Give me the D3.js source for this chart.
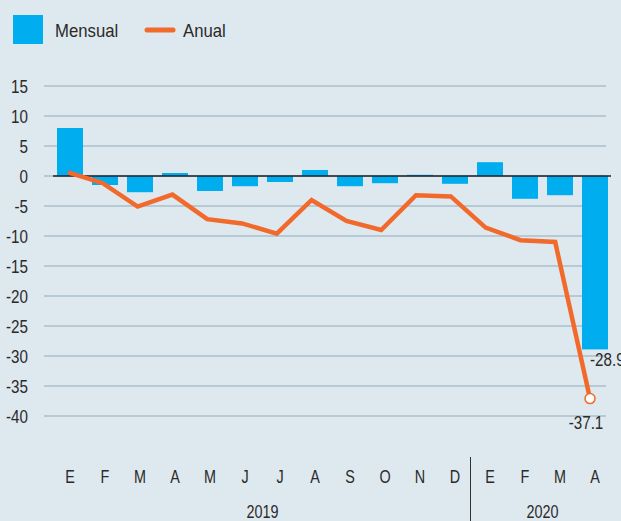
<!DOCTYPE html>
<html lang="es">
<head>
<meta charset="utf-8">
<script src="https://d3js.org/d3.v7.min.js"></script>
<style>
    body { margin: 0; background-color: #dee8ef; }
    svg text { font-family: "Liberation Sans", "Arial", sans-serif; fill: #2a2a2a; }
</style>
</head>
<body>
<svg id="main" width="621" height="521"></svg>
<script>
const meses = ["E","F","M","A","M","J","J","A","S","O","N","D","E","F","M","A"];
const anios = ["2019", "2020"];
const mesesPorAnio = [12, 4];
const mensual = [8.0, -1.5, -2.7, 0.5, -2.5, -1.7, -1.0, 1.0, -1.7, -1.2, 0.2, -1.3, 2.3, -3.8, -3.2, -28.9];
const anual = [0.6, -1.2, -5.1, -3.1, -7.2, -7.9, -9.6, -4.0, -7.5, -9.0, -3.2, -3.4, -8.6, -10.7, -11.0, -37.1];
const yTicks = [15, 10, 5, 0, -5, -10, -15, -20, -25, -30, -35, -40];

const azul = "#00adef";
const naranja = "#f26a2b";
const narrow = 0.8;   // condensed look for labels

let svg = d3.select("svg#main");
let idx = d3.range(meses.length);

// place a text at (px, py), squeezed horizontally
function place(sel, px, py, sx) {
    return sel.attr("transform", d => {
        let a = typeof px === "function" ? px(d) : px;
        let b = typeof py === "function" ? py(d) : py;
        return "translate(" + a + "," + b + ") scale(" + (sx || narrow) + ",1)";
    });
}

let x = d3.scaleBand()
    .domain(idx)
    .range([52.5, 612.5])
    .paddingInner(0.257)
    .paddingOuter(0.1285);

let xLine = d3.scalePoint()
    .domain(idx)
    .range([68, 590]);

let y = d3.scaleLinear()
    .domain([-40, 15])
    .range([416, 86]);

// grid
svg.append("g").selectAll("line")
    .data(yTicks)
    .enter().append("line")
    .attr("x1", 44).attr("x2", 606)
    .attr("y1", d => y(d)).attr("y2", d => y(d))
    .attr("stroke", "#a9bfcd")
    .attr("stroke-width", 1.5);

let yl = svg.append("g").selectAll("text")
    .data(yTicks)
    .enter().append("text")
    .attr("dy", "0.36em")
    .attr("text-anchor", "end")
    .style("font-size", "19px")
    .text(d => d);
place(yl, 28, d => y(d));

// bars
svg.append("g").selectAll("rect")
    .data(mensual)
    .enter().append("rect")
    .attr("x", (d, i) => x(i))
    .attr("width", x.bandwidth())
    .attr("y", d => y(Math.max(0, d)))
    .attr("height", d => Math.abs(y(d) - y(0)))
    .attr("fill", azul);

// zero line
svg.append("line")
    .attr("x1", 53).attr("x2", 611)
    .attr("y1", y(0)).attr("y2", y(0))
    .attr("stroke", "#1b2029")
    .attr("stroke-width", 1.5);

// line
let line = d3.line()
    .x((d, i) => xLine(i))
    .y(d => y(d));

svg.append("path")
    .datum(anual)
    .attr("d", line)
    .attr("fill", "none")
    .attr("stroke", naranja)
    .attr("stroke-width", 4.5)
    .attr("stroke-linejoin", "miter");

let last = anual.length - 1;
svg.append("circle")
    .attr("cx", xLine(last))
    .attr("cy", y(anual[last]))
    .attr("r", 5)
    .attr("fill", "white")
    .attr("stroke", naranja)
    .attr("stroke-width", 1.5);

// value labels
place(svg.append("text")
    .style("font-size", "19px")
    .text(mensual[last]), x(last) + 8, y(mensual[last]) + 17);

place(svg.append("text")
    .attr("text-anchor", "middle")
    .style("font-size", "19px")
    .text(anual[last]), xLine(last) - 4, y(anual[last]) + 30);

// x axis labels
let ml = svg.append("g").selectAll("text")
    .data(meses)
    .enter().append("text")
    .attr("text-anchor", "middle")
    .style("font-size", "18px")
    .text(d => d);
ml.attr("transform", (d, i) => "translate(" + (x(i) + x.bandwidth() / 2) + ",483) scale(" + narrow + ",1)");

let start = 0;
anios.forEach((a, k) => {
    let end = start + mesesPorAnio[k] - 1;
    let cx = (x(start) + x(end) + x.bandwidth()) / 2;
    place(svg.append("text")
        .attr("text-anchor", "middle")
        .style("font-size", "18px")
        .text(a), cx, 518);
    if (k > 0) {
        let sx = x(start) - x.step() * x.paddingInner() / 2 - 2;
        svg.append("line")
            .attr("x1", sx).attr("x2", sx)
            .attr("y1", 457).attr("y2", 521)
            .attr("stroke", "#333")
            .attr("stroke-width", 1);
    }
    start = end + 1;
});

// legend
svg.append("rect")
    .attr("x", 13).attr("y", 15)
    .attr("width", 30).attr("height", 29)
    .attr("fill", azul);
place(svg.append("text")
    .style("font-size", "18px")
    .text("Mensual"), 55, 37, 0.93);
svg.append("line")
    .attr("x1", 147).attr("x2", 173)
    .attr("y1", 30).attr("y2", 30)
    .attr("stroke", naranja)
    .attr("stroke-width", 5)
    .attr("stroke-linecap", "round");
place(svg.append("text")
    .style("font-size", "18px")
    .text("Anual"), 183, 37, 0.93);
</script>
</body>
</html>
